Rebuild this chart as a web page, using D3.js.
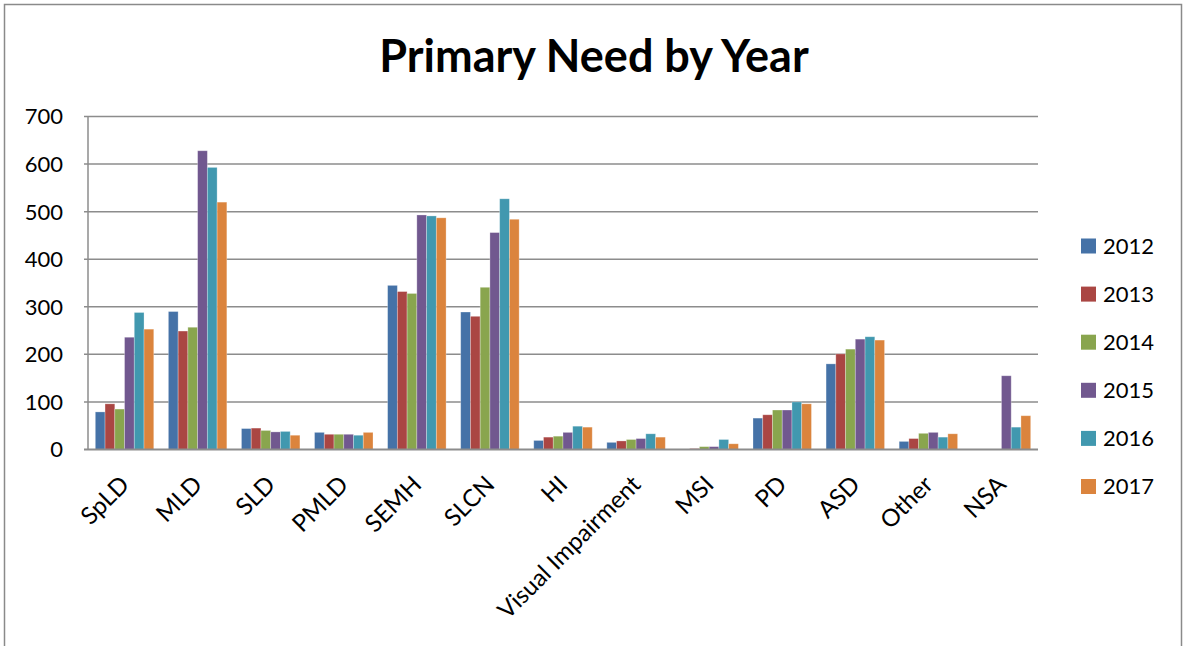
<!DOCTYPE html>
<html>
<head>
<meta charset="utf-8">
<script src="https://cdn.jsdelivr.net/npm/d3@7"></script>
<style>
  body { margin: 0; background: #fff; }
  svg { display: block; font-family: Lato, "Open Sans", sans-serif; }
</style>
</head>
<body>
<svg id="chart" width="1184" height="646"></svg>
<script>
var categories = ["SpLD", "MLD", "SLD", "PMLD", "SEMH", "SLCN", "HI", "Visual Impairment", "MSI", "PD", "ASD", "Other", "NSA"];
var years = ["2012", "2013", "2014", "2015", "2016", "2017"];
var colors = ["#4572A7", "#AA4643", "#89A54E", "#71588F", "#4198AF", "#DB843D"];
var yTicks = [0, 100, 200, 300, 400, 500, 600, 700];

// one array per year, same order as categories
var v2012 = [79, 290, 44, 36, 345, 289, 19, 15, 0, 66, 180, 17, 0];
var v2013 = [96, 249, 45, 32, 332, 280, 26, 18, 2, 73, 201, 23, 0];
var v2014 = [85, 257, 40, 32, 328, 341, 28, 21, 6, 83, 211, 34, 0];
var v2015 = [236, 628, 37, 32, 493, 456, 36, 23, 6, 83, 232, 36, 155];
var v2016 = [288, 593, 38, 30, 491, 527, 49, 33, 21, 100, 237, 26, 47];
var v2017 = [253, 520, 30, 36, 487, 484, 47, 26, 12, 96, 230, 33, 71];
var series = [v2012, v2013, v2014, v2015, v2016, v2017];

var svg = d3.select("#chart");

// outer frame
svg.append("rect")
    .attr("x", 4.5).attr("y", 4.5)
    .attr("width", 1177).attr("height", 660)
    .attr("fill", "none").attr("stroke", "#8a8a8a").attr("stroke-width", 1.5);

svg.append("text")
    .attr("x", 594).attr("y", 72)
    .attr("text-anchor", "middle")
    .attr("font-size", 45).attr("font-weight", "bold")
    .text("Primary Need by Year");

var plotLeft = 88, plotRight = 1038, plotTop = 116.5, plotBottom = 449.5;

var x = d3.scaleBand().domain(categories).range([plotLeft, plotRight]).paddingInner(0.2).paddingOuter(0.1);
var x1 = d3.scaleBand().domain(years).range([0, x.bandwidth()]);
var y = d3.scaleLinear().domain([0, 700]).range([plotBottom, plotTop]);

// gridlines
svg.append("g").selectAll("line").data(yTicks.slice(1)).join("line")
    .attr("x1", plotLeft - 4).attr("x2", plotRight)
    .attr("y1", function(d) { return y(d); }).attr("y2", function(d) { return y(d); })
    .attr("stroke", "#8c8c8c").attr("stroke-width", 1.5);

// y labels
svg.append("g").selectAll("text").data(yTicks).join("text")
    .attr("x", 63).attr("y", function(d) { return y(d); })
    .attr("dy", "0.36em")
    .attr("text-anchor", "end")
    .attr("font-size", 22)
    .text(function(d) { return d; });

// bars
var groups = svg.append("g").selectAll("g").data(series).join("g")
    .attr("fill", function(d, i) { return colors[i]; });

groups.each(function(vals, si) {
  d3.select(this).selectAll("rect").data(vals).join("rect")
      .attr("x", function(d, i) { return x(categories[i]) + x1(years[si]); })
      .attr("width", x1.bandwidth())
      .attr("y", function(d) { return y(d); })
      .attr("height", function(d) { return plotBottom - y(d); })
      .attr("stroke", "rgba(255,255,255,0.35)")
      .attr("stroke-width", 0.8);
});

// axes lines
svg.append("line")
    .attr("x1", plotLeft).attr("x2", plotLeft).attr("y1", plotTop).attr("y2", plotBottom)
    .attr("stroke", "#8c8c8c").attr("stroke-width", 1.5);
svg.append("line")
    .attr("x1", plotLeft - 4).attr("x2", plotRight).attr("y1", plotBottom).attr("y2", plotBottom)
    .attr("stroke", "#8c8c8c").attr("stroke-width", 2);

// category labels, rotated
svg.append("g").selectAll("text").data(categories).join("text")
    .attr("transform", function(d) {
      return "translate(" + (x(d) + x.bandwidth() / 2 + 6) + "," + 486 + ") rotate(-45)";
    })
    .attr("text-anchor", "end")
    .attr("font-size", 24)
    .text(function(d) { return d; });

// legend
var legend = svg.append("g").selectAll("g").data(years).join("g")
    .attr("transform", function(d, i) { return "translate(1081," + (246 + i * 48.1) + ")"; });
legend.append("rect")
    .attr("x", 0).attr("y", -7.5).attr("width", 15).attr("height", 15)
    .attr("fill", function(d, i) { return colors[i]; });
legend.append("text")
    .attr("x", 22).attr("dy", "0.36em")
    .attr("font-size", 22)
    .text(function(d) { return d; });
</script>
</body>
</html>
